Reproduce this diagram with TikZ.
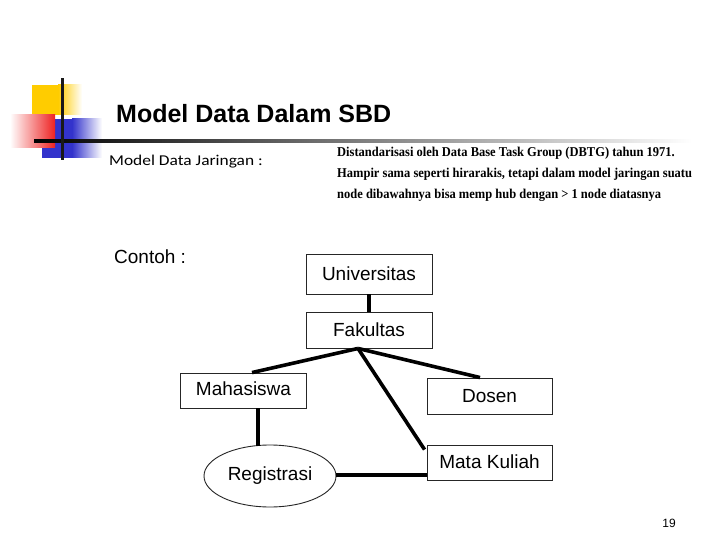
\documentclass[tikz,border=0pt]{standalone}
\usepackage{fontspec}
\setmainfont{Liberation Sans}
\newfontfamily\parafont{Liberation Serif}
\newfontfamily\subfont{Carlito}
\usetikzlibrary{shapes.geometric,calc}
\definecolor{logoyellow}{RGB}{255,204,0}
\definecolor{logoblue}{RGB}{51,51,204}
\definecolor{logored}{RGB}{238,34,34}
\tikzset{
  entbox/.style={draw=black!85, line width=0.9pt, rectangle, inner sep=0pt, font=\fontsize{19}{22}\selectfont},
  entell/.style={draw=black!85, line width=0.9pt, ellipse, inner sep=0pt, font=\fontsize{19}{22}\selectfont},
  link/.style={line width=3.6pt, black},
  paratext/.style={anchor=base west, inner sep=0pt, font=\parafont\bfseries\fontsize{13.5}{16}\selectfont},
}
\begin{document}
\begin{tikzpicture}[x=1pt,y=-1pt]
\useasboundingbox (0,0) rectangle (720,540);
\fill[white] (0,0) rectangle (720,540);
% logo
\fill[logoyellow] (32,85) rectangle (58,115);
\shade[left color=logoyellow, right color=white] (58,85) rectangle (82,115);
\fill[logoblue] (42,119) rectangle (72,158);
\shade[left color=logoblue, right color=white] (72,119) rectangle (102,158);
\shade[left color=white, right color=logored] (10,115) rectangle (55,148);
\shade[left color=black, right color=white] (34,139.5) rectangle (692,142.5);
\fill[black!90] (60.5,78) rectangle (63.5,160);
% title and texts
\node[anchor=base west, inner sep=0pt, font=\fontsize{25}{30}\selectfont\bfseries] (title) at (116,123) {Model Data Dalam SBD};
\node[anchor=base west, inner sep=0pt, font=\subfont\fontsize{15}{18}\selectfont] (sub) at (109,166) {\scalebox{1.16}[1]{Model Data Jaringan :}};
\node[anchor=base west, inner sep=0pt, font=\fontsize{19}{22}\selectfont] (contoh) at (114,263) {Contoh :};
\node[paratext] (p1) at (337,157) {\scalebox{0.925}[1]{Distandarisasi oleh Data Base Task Group (DBTG) tahun 1971.}};
\node[paratext] (p2) at (337,178) {\scalebox{0.925}[1]{Hampir sama seperti hirarakis, tetapi dalam model jaringan suatu}};
\node[paratext] (p3) at (337,199) {\scalebox{0.925}[1]{node dibawahnya bisa memp hub dengan > 1 node diatasnya}};
\node[anchor=base, inner sep=0pt, font=\fontsize{12}{14}\selectfont] (pg) at (669,527) {19};
% entities
\node[entbox, minimum width=126pt, minimum height=40pt] (uni) at (369,274) {Universitas};
\node[entbox, minimum width=126pt, minimum height=36pt] (fak) at (369,330) {Fakultas};
\node[entbox, minimum width=126pt, minimum height=35pt] (mhs) at (243.5,390.5) {\raisebox{3pt}{Mahasiswa}};
\node[entbox, minimum width=125pt, minimum height=36pt] (dsn) at (489.5,396) {Dosen};
\node[entbox, minimum width=125pt, minimum height=35pt] (mk) at (489.5,462.5) {\raisebox{2pt}{Mata Kuliah}};
\node[entell, minimum width=132pt, minimum height=62pt] (reg) at (270,476) {\raisebox{-5pt}{Registrasi}};
% connector points
\coordinate (fkb) at ($(fak.south)+(-11,0)$);
\coordinate (mhst) at ($(mhs.north)+(8.5,0)$);
\coordinate (dsnt) at ($(dsn.north)+(-9.5,0)$);
\coordinate (mkt) at ($(mk.north west)+(-2,5)$);
\coordinate (mhsb) at ($(mhs.south)+(14.5,0)$);
\coordinate (regt) at ($(reg.center)+(-12,-30.5)$);
\coordinate (mkl) at ($(mk.west)+(0,12.5)$);
\coordinate (regr) at ($(reg.east)+(0,-1)$);
% connectors
\draw[link] (uni.south) -- (fak.north);
\draw[link] (fkb) -- (mhst);
\draw[link] (fkb) -- (dsnt);
\draw[link] (fkb) -- (mkt);
\draw[link] (mhsb) -- (regt);
\draw[link] (regr) -- (mkl);
\end{tikzpicture}
\end{document}
